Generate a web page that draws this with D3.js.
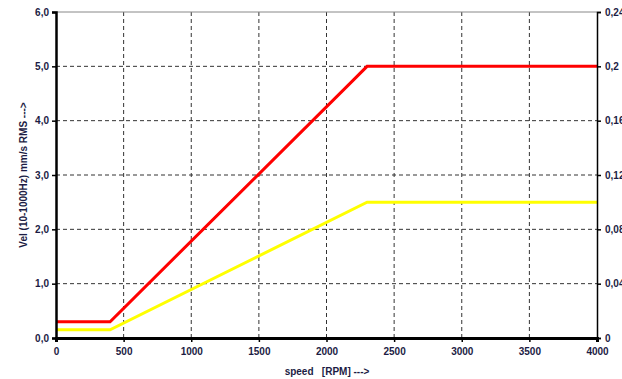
<!DOCTYPE html>
<html>
<head>
<meta charset="utf-8">
<script src="https://cdn.jsdelivr.net/npm/d3@7"></script>
<style>
  body { margin: 0; background: #fff; }
  text { font-family: "Liberation Sans", Arial, sans-serif; font-weight: bold; }
</style>
</head>
<body>
<div id="chart"></div>
<script>
const speeds = [0, 400, 2200, 2300, 4000];
const redValues = [0.3, 0.3, 4.75, 5.0, 5.0];
const yellowSpeeds = [0, 400, 2300, 4000];
const yellowValues = [0.15, 0.15, 2.5, 2.5];
const xTicks = [0, 500, 1000, 1500, 2000, 2500, 3000, 3500, 4000];
const yTicks = [0, 1, 2, 3, 4, 5, 6];
const rightTicks = [0, 0.04, 0.08, 0.12, 0.16, 0.2, 0.24];

const width = 622, height = 379;
const margin = {top: 12, right: 25, bottom: 41, left: 56};

const svg = d3.select('#chart').append('svg')
  .attr('width', width)
  .attr('height', height);

const x = d3.scaleLinear().domain([0, 4000]).range([margin.left, width - margin.right]);
const y = d3.scaleLinear().domain([0, 6]).range([height - margin.bottom, margin.top]);
const y2 = d3.scaleLinear().domain([0, 0.24]).range([height - margin.bottom, margin.top]);

const labelColor = '#1c1c44';

// grid
svg.append('g').selectAll('line')
  .data(xTicks.slice(1, -1))
  .enter().append('line')
  .attr('x1', d => x(d)).attr('x2', d => x(d))
  .attr('y1', y(6)).attr('y2', y(0))
  .attr('stroke', '#333').attr('stroke-width', 1).attr('stroke-dasharray', '4,3');

svg.append('g').selectAll('line')
  .data(yTicks.slice(1, -1))
  .enter().append('line')
  .attr('x1', x(0)).attr('x2', x(4000))
  .attr('y1', d => y(d)).attr('y2', d => y(d))
  .attr('stroke', '#333').attr('stroke-width', 1).attr('stroke-dasharray', '4,3');

// top border
svg.append('line')
  .attr('x1', x(0)).attr('x2', x(4000))
  .attr('y1', y(6)).attr('y2', y(6))
  .attr('stroke', '#888').attr('stroke-width', 1);

// lines
const line = d3.line().x(d => x(d[0])).y(d => y(d[1]));

svg.append('path')
  .datum(yellowSpeeds.map((s, i) => [s, yellowValues[i]]))
  .attr('d', line)
  .attr('fill', 'none').attr('stroke', '#ffff00').attr('stroke-width', 3);

svg.append('path')
  .datum(speeds.map((s, i) => [s, redValues[i]]))
  .attr('d', line)
  .attr('fill', 'none').attr('stroke', '#ff0000').attr('stroke-width', 3);

// axes
const fmt = d => d3.format('.1f')(d).replace('.', ',');

const xAxis = svg.append('g')
  .attr('transform', 'translate(0,' + y(0) + ')')
  .call(d3.axisBottom(x).tickValues(xTicks).tickSize(4).tickPadding(6).tickFormat(d3.format('d')));

const yAxis = svg.append('g')
  .attr('transform', 'translate(' + x(0) + ',0)')
  .call(d3.axisLeft(y).tickValues(yTicks).tickSize(4).tickPadding(3).tickFormat(fmt));

const y2Axis = svg.append('g')
  .attr('transform', 'translate(' + x(4000) + ',0)')
  .call(d3.axisRight(y2).tickValues(rightTicks).tickSize(4).tickPadding(4)
    .tickFormat(d => d === 0 ? '0' : String(+d.toFixed(2)).replace('.', ',')));

[xAxis, yAxis, y2Axis].forEach(g => {
  g.selectAll('.tick line').attr('stroke', '#000').attr('stroke-width', 1.5);
  g.selectAll('text').attr('fill', labelColor).attr('font-size', 10);
});
xAxis.select('.domain').attr('stroke', '#000').attr('stroke-width', 3);
yAxis.select('.domain').attr('stroke', '#000').attr('stroke-width', 2.5);
y2Axis.select('.domain').attr('stroke', '#000').attr('stroke-width', 1.5);

// axis titles
svg.append('text')
  .attr('x', 327).attr('y', 375)
  .attr('text-anchor', 'middle')
  .attr('font-size', 10)
  .attr('fill', labelColor)
  .attr('xml:space', 'preserve')
  .text('speed   [RPM] --->');

svg.append('text')
  .attr('transform', 'translate(27,' + 175 + ') rotate(-90)')
  .attr('text-anchor', 'middle')
  .attr('font-size', 10)
  .attr('fill', labelColor)
  .text('Vel (10-1000Hz) mm/s RMS --->');
</script>
</body>
</html>
